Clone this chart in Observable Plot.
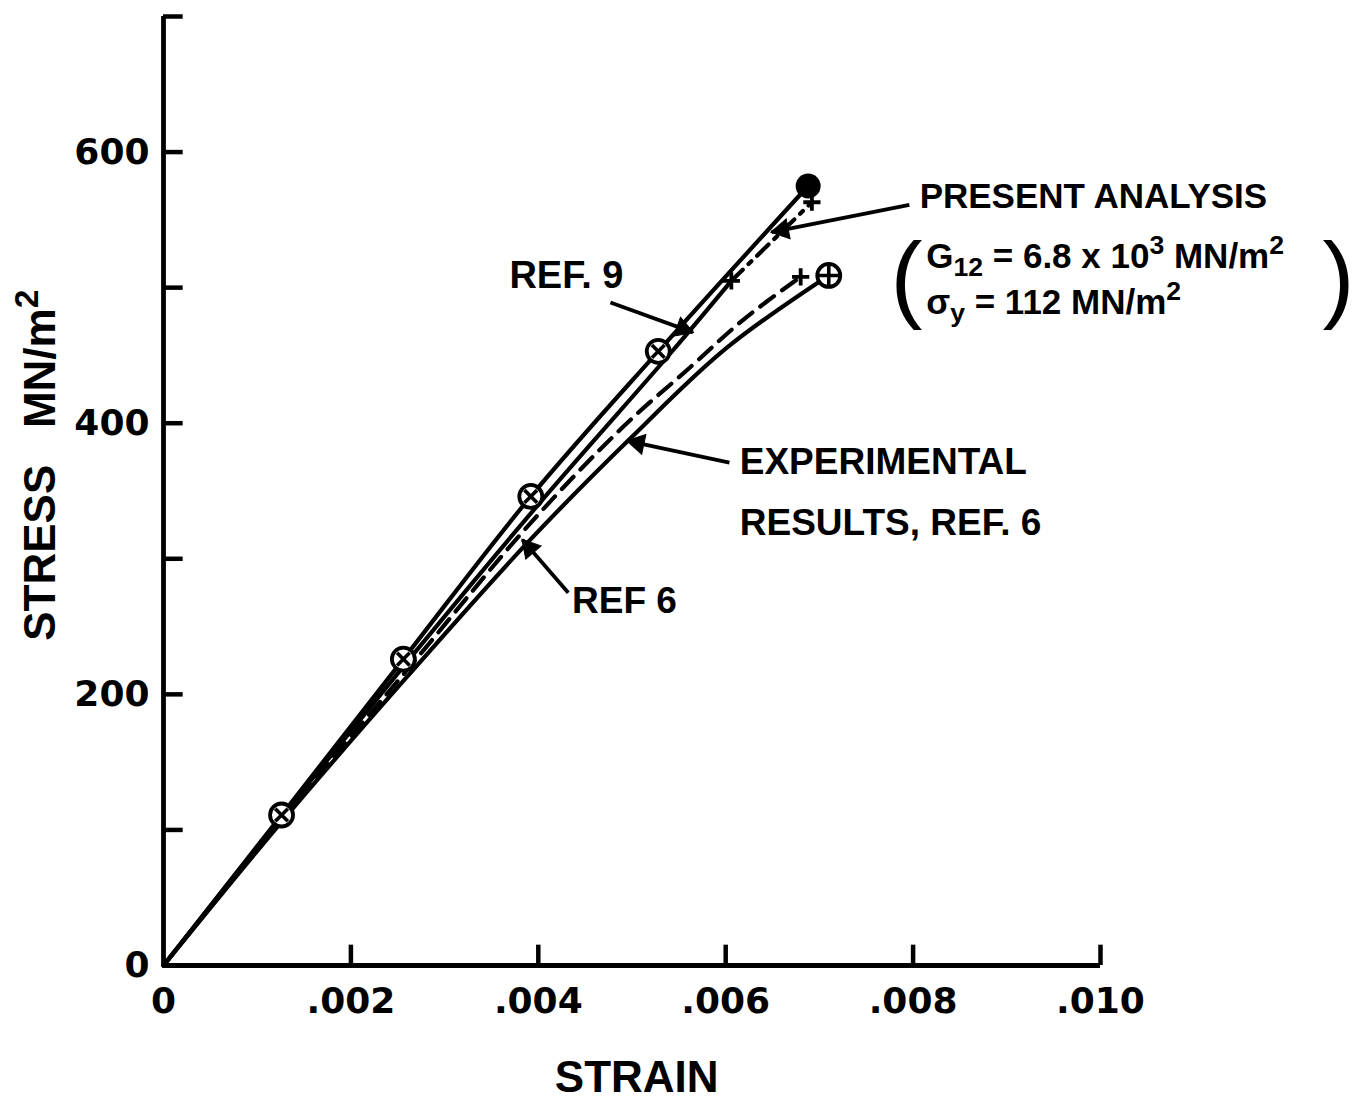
<!DOCTYPE html>
<html><head><meta charset="utf-8">
<script src="https://cdn.jsdelivr.net/npm/d3@7"></script>
<script src="https://cdn.jsdelivr.net/npm/@observablehq/plot@0.6"></script>
<style>
body{margin:0;background:#fff;}
#chart svg{display:block;}
</style></head><body><div id="chart"></div>
<script>
// ---------------- data ----------------
const xTickValues = [0.002, 0.004, 0.006, 0.008, 0.010];
const xLabelValues = [0, 0.002, 0.004, 0.006, 0.008, 0.010];
const xLabelTexts = ["0", ".002", ".004", ".006", ".008", ".010"];
const yTickValues = [100, 200, 300, 400, 500, 600, 700];
const yLabelValues = [0, 200, 400, 600];
const yLabelTexts = ["0", "200", "400", "600"];

// upper solid curve with circled-cross points, ending in a filled dot
const upperStrain = [0, 0.00126, 0.00256, 0.00392, 0.00528, 0.00688];
const upperStress = [0, 111, 226, 346, 453, 575];
// Ref. 9 solid curve
const ref9Strain = [0, 0.00126, 0.0026, 0.0040, 0.00544, 0.00606];
const ref9Stress = [0, 110, 224, 340, 454, 505];
// present analysis, dash-dot continuation
const presentStrain = [0.00606, 0.00692];
const presentStress = [505, 563];
// Ref. 6 dashed curve
const ref6Strain = [0, 0.00126, 0.0026, 0.0039, 0.0049, 0.0056, 0.0062, 0.0068];
const ref6Stress = [0, 108, 218, 325, 397, 440, 477, 508];
// experimental results, lower solid curve ending in a circled plus
const expStrain = [0, 0.00126, 0.0026, 0.0039, 0.0050, 0.0060, 0.0071];
const expStress = [0, 106, 213, 313, 390, 455, 509];

// annotation texts
const bigLabelTexts = ["EXPERIMENTAL", "RESULTS, REF. 6", "REF 6"];
const bigLabelStrain = [0.00615, 0.00615, 0.00436];
const bigLabelStress = [371, 326, 269];
const presentLabelTexts = ["PRESENT ANALYSIS"];
const presentLabelStrain = [0.00807];
const presentLabelStress = [567];
const midLabelTexts = ["REF.\u00a09"];
const midLabelStrain = [0.00430];
const midLabelStress = [509];
const formulaTexts = ["G_{12} = 6.8 x 10^{3} MN/m^{2}", "\u03c3_{y} = 112 MN/m^{2}"];
const formulaStrain = [0.00814, 0.00814];
const formulaStress = [523, 489];
const parenTexts = ["(", ")"];
const parenStrain = [0.00793, 0.01254];
const parenStress = [506, 506];
// arrows: tail -> tip
const arrowTailStrain = [0.00796, 0.00477, 0.00604, 0.00432];
const arrowTailStress = [561, 489, 371, 275];
const arrowTipStrain = [0.00649, 0.00565, 0.00495, 0.00383];
const arrowTipStress = [541, 467, 387, 314];

// ---------------- build ----------------
const zip = (xs, ys) => xs.map((x, i) => ({x, y: ys[i]}));
const upper = zip(upperStrain, upperStress);
const ref9 = zip(ref9Strain, ref9Stress);
const present = zip(presentStrain, presentStress);
const ref6 = zip(ref6Strain, ref6Stress);
const exp = zip(expStrain, expStress);
const crossed = upper.slice(1, 5);
const filledEnd = upper.slice(5);
const plusPts = [present[0], present[1], ref6[ref6.length - 1]];
const oplusEnd = exp.slice(-1);
const lab = (ts, xs, ys) => ts.map((t, i) => ({t, x: xs[i], y: ys[i]}));
const bigLabels = lab(bigLabelTexts, bigLabelStrain, bigLabelStress);
const presentLabels = lab(presentLabelTexts, presentLabelStrain, presentLabelStress);
const midLabels = lab(midLabelTexts, midLabelStrain, midLabelStress);
const formulas = lab(formulaTexts, formulaStrain, formulaStress);
const parens = lab(parenTexts, parenStrain, parenStress);
const arrows = arrowTailStrain.map((x1, i) => ({x1, y1: arrowTailStress[i], x2: arrowTipStrain[i], y2: arrowTipStress[i]}));

const base = {
  width: 1357,
  height: 1101,
  marginLeft: 163,
  marginRight: 257,
  marginTop: 16,
  marginBottom: 136,
  x: {domain: [0, 0.010], axis: null},
  y: {domain: [0, 700], axis: null}
};

// filled arrowheads: orientation from the library's own scales
const probe = Plot.plot({...base, marks: [Plot.dot([{x: 0, y: 0}], {x: "x", y: "y"})]});
const SX = probe.scale("x"), SY = probe.scale("y");
const sxf = d3.scaleLinear(SX.domain, SX.range), syf = d3.scaleLinear(SY.domain, SY.range);
const HEAD_BACK = 11;
const heads = arrows.map(a => {
  const px1 = sxf(a.x1), py1 = syf(a.y1), px2 = sxf(a.x2), py2 = syf(a.y2);
  const len = Math.hypot(px2 - px1, py2 - py1), ux = (px2 - px1) / len, uy = (py2 - py1) / len;
  return {
    x: sxf.invert(px2 - ux * HEAD_BACK),
    y: syf.invert(py2 - uy * HEAD_BACK),
    rot: Math.atan2(uy, ux) * 180 / Math.PI + 90
  };
});

const FONT = "Liberation Sans, Arial, sans-serif";
const DIGITS = "DejaVu Sans, Liberation Sans, sans-serif";
const LW = 4.2;
const TXT = {fill: "black", fontWeight: "bold"};

const chart = Plot.plot({
  ...base,
  style: {fontFamily: FONT, color: "black", background: "white"},
  marks: [
    // axes
    Plot.ruleX([0], {y1: 0, y2: 700, strokeWidth: 4.8}),
    Plot.ruleY([0], {x1: 0, x2: 0.010, strokeWidth: 4.8}),
    Plot.ruleY(yTickValues, {y: d => d, x1: 0, x2: 0.00021, strokeWidth: 4.5}),
    Plot.ruleX(xTickValues, {x: d => d, y1: 0, y2: 15, strokeWidth: 4.5}),
    Plot.text(yLabelValues, {x: 0, y: d => d, text: (d, i) => yLabelTexts[i], textAnchor: "end", dx: -14, fontSize: 36, fontFamily: DIGITS, ...TXT}),
    Plot.text(xLabelValues, {x: d => d, y: 0, text: (d, i) => xLabelTexts[i], dy: 36, fontSize: 36, fontFamily: DIGITS, ...TXT}),
    Plot.text(["STRAIN"], {x: 0.00505, y: -83, text: d => d, fontSize: 44, ...TXT}),
    Plot.text(["STRESS\u00a0\u00a0\u00a0MN/m^{2}"], {x: -0.00131, y: 369, text: d => d, rotate: -90, fontSize: 44, ...TXT}),
    // curves
    Plot.line(exp, {x: "x", y: "y", strokeWidth: LW, curve: "catmull-rom"}),
    Plot.line(ref6, {x: "x", y: "y", strokeWidth: LW, strokeDasharray: "17,10", curve: "catmull-rom"}),
    Plot.line(ref9, {x: "x", y: "y", strokeWidth: LW, curve: "catmull-rom"}),
    Plot.line(present, {x: "x", y: "y", strokeWidth: LW, strokeDasharray: "16,8,4,8"}),
    Plot.line(upper, {x: "x", y: "y", strokeWidth: LW, curve: "catmull-rom"}),
    // markers
    Plot.dot(crossed, {x: "x", y: "y", r: 11.5, fill: "white", stroke: "black", strokeWidth: 3.8}),
    Plot.dot(crossed, {x: "x", y: "y", r: 5.8, symbol: "times", stroke: "black", strokeWidth: 3.6}),
    Plot.dot(oplusEnd, {x: "x", y: "y", r: 11.5, fill: "white", stroke: "black", strokeWidth: 3.8}),
    Plot.dot(oplusEnd, {x: "x", y: "y", r: 6.8, symbol: "plus", stroke: "black", strokeWidth: 3.6}),
    Plot.dot(filledEnd, {x: "x", y: "y", r: 12.5, fill: "black"}),
    Plot.dot(plusPts, {x: "x", y: "y", r: 5.6, symbol: "plus", stroke: "black", strokeWidth: 3.8}),
    // annotations
    Plot.link(arrows, {x1: "x1", y1: "y1", x2: "x2", y2: "y2", strokeWidth: 3.8}),
    Plot.dot(heads, {x: "x", y: "y", symbol: "triangle", r: 7.5, rotate: "rot", fill: "black", stroke: "black", strokeWidth: 1}),
    Plot.text(bigLabels, {x: "x", y: "y", text: "t", textAnchor: "start", fontSize: 37, ...TXT}),
    Plot.text(presentLabels, {x: "x", y: "y", text: "t", textAnchor: "start", fontSize: 35, ...TXT}),
    Plot.text(midLabels, {x: "x", y: "y", text: "t", textAnchor: "middle", fontSize: 38, ...TXT}),
    Plot.text(formulas, {x: "x", y: "y", text: "t", textAnchor: "start", fontSize: 35, ...TXT}),
    Plot.text(parens, {x: "x", y: "y", text: "t", textAnchor: "middle", fontSize: 96, fontWeight: "normal", fill: "black"})
  ]
});

// rich text: _{sub} and ^{sup}
const NS = "http://www.w3.org/2000/svg";
d3.select(chart).selectAll("text").each(function () {
  const s = this.textContent;
  if (!/[_^]\{/.test(s)) return;
  const g = this.parentNode;
  const fs = parseFloat(this.getAttribute("font-size") || (g && g.getAttribute("font-size"))) || 35;
  const small = fs * 0.76;
  this.textContent = "";
  const re = /([_^])\{([^}]*)\}/g;
  let last = 0, m, shift = 0;
  const add = (str, dy, size) => {
    const t = document.createElementNS(NS, "tspan");
    t.textContent = str;
    if (dy) t.setAttribute("dy", dy);
    if (size) t.setAttribute("font-size", size);
    this.appendChild(t);
  };
  while ((m = re.exec(s))) {
    if (m.index > last) { add(s.slice(last, m.index), -shift); shift = 0; }
    const d = m[1] === "_" ? fs * 0.24 : -fs * 0.38;
    add(m[2], d - shift, small);
    shift = d;
    last = re.lastIndex;
  }
  if (last < s.length) add(s.slice(last), -shift);
});

document.getElementById("chart").appendChild(chart);
</script></body></html>
